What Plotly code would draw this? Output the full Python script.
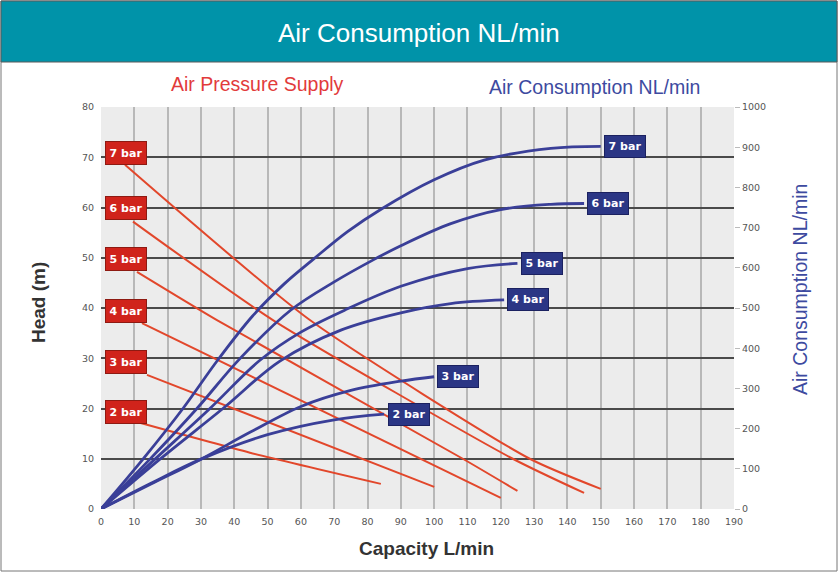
import plotly.graph_objects as go

# ---------------- data ----------------
capacity_ticks = list(range(0, 200, 10))
head_ticks = list(range(0, 90, 10))
air_ticks = list(range(0, 1100, 100))

pressures = ["2 bar", "3 bar", "4 bar", "5 bar", "6 bar", "7 bar"]
pressure_label_head = [19.3, 29.2, 39.4, 49.7, 59.9, 70.8]

# Head vs capacity (red lines, left axis, m)
head_cap_2 = [10.8, 44.7, 84]
head_val_2 = [17.3, 11.2, 5.0]
head_cap_3 = [13.8, 100]
head_val_3 = [26.7, 4.4]
head_cap_4 = [12.3, 120]
head_val_4 = [37.0, 2.2]
head_cap_5 = [10.8, 34.8, 108.6, 125]
head_val_5 = [47.2, 37.6, 10.0, 3.6]
head_cap_6 = [9.6, 51.6, 123.6, 145]
head_val_6 = [57.2, 37.6, 10.0, 3.2]
head_cap_7 = [7.2, 62.7, 128.7, 150]
head_val_7 = [68.5, 37.6, 10.0, 4.0]

# Air consumption vs capacity (blue curves, right axis, NL/min)
air_cap_2 = [0, 15, 30, 50, 70, 85]
air_val_2 = [0, 64, 124, 185, 222, 236]
air_cap_3 = [0, 15, 30, 45, 60, 75, 90, 100]
air_val_3 = [0, 62, 124, 192, 255, 295, 318, 329]
air_cap_4 = [0, 17.7, 36.6, 53.7, 72, 90, 105, 121]
air_val_4 = [0, 124, 250, 368, 445, 488, 511, 520]
air_cap_5 = [0, 16.2, 32.7, 47.7, 60, 73, 90, 110, 125]
air_val_5 = [0, 124, 250, 370, 440, 494, 554, 598, 611]
air_cap_6 = [0, 14.7, 28.8, 41.7, 57, 70, 82, 90, 105, 120, 135, 145]
air_val_6 = [0, 124, 250, 374, 495, 565, 621, 655, 710, 745, 758, 760]
air_cap_7 = [0, 12.6, 24.6, 35, 45.5, 55, 63.7, 74, 84.3, 100, 115, 135, 150]
air_val_7 = [0, 124, 250, 370, 480, 560, 621, 690, 747, 819, 868, 897, 902]

head_caps = [head_cap_2, head_cap_3, head_cap_4, head_cap_5, head_cap_6, head_cap_7]
head_vals = [head_val_2, head_val_3, head_val_4, head_val_5, head_val_6, head_val_7]
air_caps = [air_cap_2, air_cap_3, air_cap_4, air_cap_5, air_cap_6, air_cap_7]
air_vals = [air_val_2, air_val_3, air_val_4, air_val_5, air_val_6, air_val_7]

# ---------------- style ----------------
RED = "#e2472b"
RED_BOX = "#d0231b"
BLUE = "#3a3f98"
BLUE_BOX = "#2b3685"
TEAL = "#0093a9"

W, H = 838, 572
L, R, T, B = 101, 104, 107, 63
PW, PH = W - L - R, H - T - B


def px(x):
    return (x - L) / PW


def py(y):
    return (H - B - y) / PH


fig = go.Figure()

for p, cx, hv in zip(pressures, head_caps, head_vals):
    fig.add_trace(go.Scatter(x=cx, y=hv, mode="lines", name=p + " head",
                             line=dict(color=RED, width=2, shape="spline", smoothing=0.6),
                             showlegend=False, hoverinfo="skip"))

for p, cx, av in zip(pressures, air_caps, air_vals):
    fig.add_trace(go.Scatter(x=cx, y=av, mode="lines", name=p + " air", yaxis="y2",
                             line=dict(color=BLUE, width=2.8, shape="spline", smoothing=1.0),
                             showlegend=False, hoverinfo="skip"))

annotations = []
# red pressure labels
for p, hv in zip(pressures, pressure_label_head):
    annotations.append(dict(x=1.2, y=hv, xref="x", yref="y", text="<b>%s</b>" % p,
                            showarrow=False, xanchor="left", yanchor="middle",
                            font=dict(family="DejaVu Sans", size=11, color="white"),
                            bgcolor=RED_BOX, bordercolor="#8e1a12", borderwidth=1,
                            borderpad=2, width=36, height=18))
# blue air labels at curve ends
for p, cx, av in zip(pressures, air_caps, air_vals):
    annotations.append(dict(x=cx[-1] + 1, y=av[-1], xref="x", yref="y2",
                            text="<b>%s</b>" % p, showarrow=False,
                            xanchor="left", yanchor="middle",
                            font=dict(family="DejaVu Sans", size=11, color="white"),
                            bgcolor=BLUE_BOX, bordercolor="#1b2160", borderwidth=1,
                            borderpad=2, width=36, height=17))


def txt(x, y, text, size, color, angle=0):
    return dict(x=px(x), y=py(y), xref="paper", yref="paper", text=text,
                showarrow=False, xanchor="center", yanchor="middle", textangle=angle,
                font=dict(family="Liberation Sans", size=size, color=color))


annotations += [
    txt(419, 33, "Air Consumption NL/min", 26, "white"),
    txt(257, 84, "Air Pressure Supply", 19.5, "#e23b3b"),
    txt(594, 87, "Air Consumption NL/min", 19.5, "#3d4aa0"),
    txt(38, 303, "<b>Head (m)</b>", 19, "#333333", -90),
    txt(426, 548, "<b>Capacity L/min</b>", 19, "#333333"),
    txt(800, 290, "Air Consumption NL/min", 19.5, "#3d4aa0", -90),
]

shapes = [
    dict(type="rect", xref="paper", yref="paper", x0=px(1), x1=px(837), y0=py(1), y1=py(571),
         line=dict(color="#777777", width=1), fillcolor="rgba(0,0,0,0)", layer="below"),
    dict(type="rect", xref="paper", yref="paper", x0=px(1), x1=px(837), y0=py(1), y1=py(62),
         line=dict(color="#5a5a5a", width=1), fillcolor=TEAL, layer="below"),
]

tickfont = dict(family="DejaVu Sans", size=9.5, color="#555555")

fig.update_layout(
    width=W, height=H,
    margin=dict(l=L, r=R, t=T, b=B, pad=0),
    paper_bgcolor="white",
    plot_bgcolor="#ececec",
    showlegend=False,
    xaxis=dict(range=[0, 190], tickvals=capacity_ticks, ticks="", showgrid=True,
               gridcolor="#b8b8b8", gridwidth=1.5, zeroline=False, showline=False,
               tickfont=tickfont, fixedrange=True, ticklabelstandoff=5),
    yaxis=dict(range=[0, 80], tickvals=head_ticks, ticks="", showgrid=True,
               gridcolor="#4a4a4a", gridwidth=2, zeroline=False, showline=False,
               tickfont=tickfont, fixedrange=True, ticklabelstandoff=6),
    yaxis2=dict(range=[0, 1000], tickvals=air_ticks, overlaying="y", side="right",
                showgrid=False, zeroline=False, showline=False, ticks="outside",
                ticklen=5, tickcolor="#bbbbbb", tickfont=tickfont, fixedrange=True),
    annotations=annotations,
    shapes=shapes,
)

fig.write_html("out.html", config={"displayModeBar": False},
               post_script="document.body.style.margin='0';")
